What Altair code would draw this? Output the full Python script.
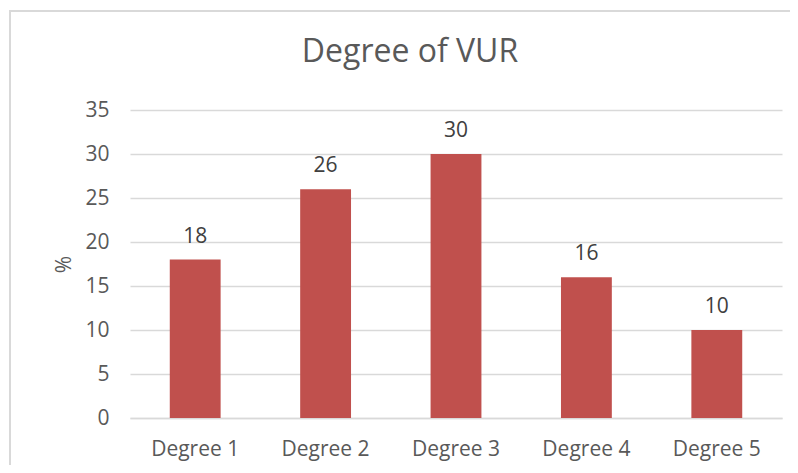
import altair as alt
import pandas as pd

categories = ["Degree 1", "Degree 2", "Degree 3", "Degree 4", "Degree 5"]
values = [18, 26, 30, 16, 10]
y_ticks = [0, 5, 10, 15, 20, 25, 30, 35]

df = pd.DataFrame({"cat": categories, "val": values})

FONT = "Open Sans"
x = alt.X("cat:N", sort=categories, title=None,
          scale=alt.Scale(paddingInner=0.61, paddingOuter=0.305),
          axis=alt.Axis(labelAngle=0, labelFontSize=21, labelColor="#595959",
                        labelFont=FONT, labelPadding=20, ticks=False,
                        domainColor="#d9d9d9", domainWidth=1.3, grid=False))
y = alt.Y("val:Q", title="%",
          scale=alt.Scale(domain=[0, 35], nice=False),
          axis=alt.Axis(values=y_ticks, labelFontSize=21, labelColor="#595959",
                        labelFont=FONT, labelPadding=21, ticks=False, domain=False,
                        gridColor="#d9d9d9", gridWidth=1.3,
                        titleFont=FONT, titleFontSize=21, titleFontWeight="normal",
                        titleColor="#595959", titlePadding=10))

bars = alt.Chart(df).mark_bar(color="#C0504D").encode(x=x, y=y)
labels = alt.Chart(df).mark_text(font=FONT, fontSize=21, color="#404040",
                                 baseline="alphabetic", dy=-17).encode(
    x=alt.X("cat:N", sort=categories), y="val:Q", text="val:Q")

border = alt.Chart(df).mark_rect(fill=None, stroke="#d9d9d9", strokeWidth=1.3).encode(
    x=alt.value(-120), x2=alt.value(662), y=alt.value(-99), y2=alt.value(358))

chart = alt.layer(border, bars, labels).properties(
    width=652, height=308,
    title=alt.TitleParams("Degree of VUR", font=FONT, fontSize=32, fontWeight="normal",
                          color="#595959", anchor="middle", frame="group",
                          baseline="alphabetic", offset=0, dy=84, dx=-46),
    autosize=alt.AutoSizeParams(type="none"),
    padding={"left": 122, "top": 102, "right": 8, "bottom": 47},
).configure_view(stroke=None)

chart.save("out.html", embed_options={"renderer": "svg", "actions": False})
